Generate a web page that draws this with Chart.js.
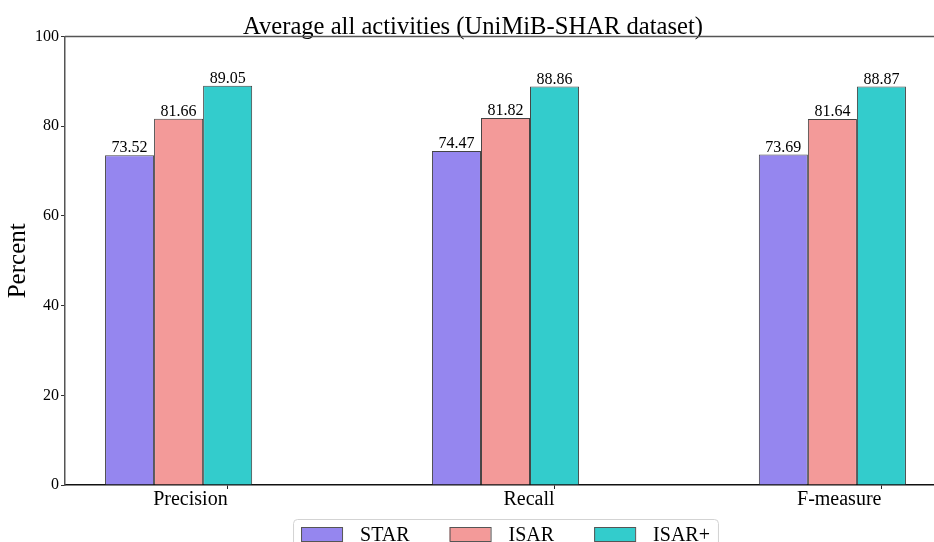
<!DOCTYPE html>
<html>
<head>
<meta charset="utf-8">
<title>Average all activities</title>
<script src="https://cdn.jsdelivr.net/npm/chart.js@4.4.1/dist/chart.umd.min.js"></script>
<style>
  html, body { margin: 0; padding: 0; background: #fff; overflow: hidden; }
  #wrap { width: 934px; height: 542px; overflow: hidden; }
</style>
</head>
<body>
<div id="wrap">
  <canvas id="myChart" width="1011" height="560"></canvas>
</div>
<script>
// datos del grafico
const categorias = ["Precision", "Recall", "F-measure"];
const nombresSeries = ["STAR", "ISAR", "ISAR+"];
const star = [73.52, 74.47, 73.69];
const isar = [81.66, 81.82, 81.64];
const isarPlus = [89.05, 88.86, 88.87];
const ticksY = [0, 20, 40, 60, 80, 100];

const colores = ["#9586ef", "#f39a99", "#33cccc"];
const fuente = "'Liberation Serif', 'Times New Roman', serif";

// cada grupo va en su posicion x (0, 1, 2) sobre un eje lineal
function puntos(valores) {
  return valores.map((v, i) => ({ x: i, y: v }));
}

// numero encima de cada barra
const etiquetasBarras = {
  id: "etiquetasBarras",
  afterDatasetsDraw(chart) {
    const ctx = chart.ctx;
    ctx.save();
    ctx.font = "16px " + fuente;
    ctx.fillStyle = "#000";
    ctx.textAlign = "center";
    ctx.textBaseline = "alphabetic";
    chart.data.datasets.forEach((ds, d) => {
      chart.getDatasetMeta(d).data.forEach((bar, i) => {
        ctx.fillText(ds.data[i].y.toFixed(2), bar.x, bar.y - 3);
      });
    });
    ctx.restore();
  },
};

// linea superior y derecha del marco
const marco = {
  id: "marco",
  afterDraw(chart) {
    const a = chart.chartArea;
    const ctx = chart.ctx;
    ctx.save();
    ctx.strokeStyle = "#555";
    ctx.lineWidth = 1.5;
    ctx.beginPath();
    ctx.moveTo(a.left, a.top);
    ctx.lineTo(a.right, a.top);
    ctx.lineTo(a.right, a.bottom);
    ctx.stroke();
    ctx.restore();
  },
};

// leyenda con recuadro debajo del eje
const leyenda = {
  id: "leyenda",
  afterDraw(chart) {
    const ctx = chart.ctx;
    const cx = chart.width / 2;
    const top = 519;
    const caja = 41, altoCaja = 14, hueco = 18, separacion = 40, borde = 8;
    ctx.save();
    ctx.font = "20px " + fuente;
    const anchos = nombresSeries.map((n) => ctx.measureText(n).width);
    let total = borde * 2 + separacion * (nombresSeries.length - 1);
    anchos.forEach((w) => (total += caja + hueco + w));
    const left = cx - total / 2;

    ctx.fillStyle = "rgba(255,255,255,0.8)";
    ctx.strokeStyle = "#d3d3d3";
    ctx.lineWidth = 1;
    ctx.beginPath();
    ctx.roundRect(left + 0.5, top + 0.5, total, 36, 4);
    ctx.fill();
    ctx.stroke();

    let x = left + borde;
    nombresSeries.forEach((n, i) => {
      ctx.fillStyle = colores[i];
      ctx.fillRect(x, top + 8, caja, altoCaja);
      ctx.strokeStyle = "#555";
      ctx.strokeRect(x + 0.5, top + 8.5, caja, altoCaja);
      ctx.fillStyle = "#000";
      ctx.textAlign = "left";
      ctx.textBaseline = "alphabetic";
      ctx.fillText(n, x + caja + hueco, top + 21.5);
      x += caja + hueco + anchos[i] + separacion;
    });
    ctx.restore();
  },
};

document.addEventListener("DOMContentLoaded", function () {
  const ctx = document.getElementById("myChart").getContext("2d");
  const series = [star, isar, isarPlus];
  new Chart(ctx, {
    type: "bar",
    data: {
      datasets: series.map((valores, i) => ({
        label: nombresSeries[i],
        data: puntos(valores),
        backgroundColor: colores[i],
        borderColor: "#444",
        borderWidth: 1,
        borderSkipped: "bottom",
        categoryPercentage: 0.45,
        barPercentage: 1,
      })),
    },
    plugins: [etiquetasBarras, marco, leyenda],
    options: {
      responsive: false,
      animation: false,
      layout: { padding: { left: 0, right: 65, top: 0, bottom: 45 } },
      plugins: {
        legend: { display: false },
        tooltip: { enabled: false },
        title: {
          display: true,
          text: "Average all activities (UniMiB-SHAR dataset)",
          color: "#000",
          font: { family: fuente, size: 24.6, weight: "normal", lineHeight: 1 },
          padding: { top: 15, bottom: -3 },
        },
      },
      scales: {
        x: {
          type: "linear",
          offset: false,
          bounds: "data",
          min: -0.3475,
          max: 2.3475,
          afterBuildTicks: (axis) => {
            // marca de cada categoria bajo la tercera barra del grupo
            axis.ticks = categorias.map((c, i) => ({ value: i + 0.15 }));
          },
          afterFit: (axis) => {
            axis.height = 30;
          },
          ticks: {
            callback: (v, i) => categorias[i],
            align: "end",
            color: "#000",
            padding: 1,
            maxRotation: 0,
            autoSkip: false,
            font: { family: fuente, size: 20, lineHeight: 1 },
          },
          grid: { offset: false, drawOnChartArea: false, tickLength: 4, color: "#222" },
          border: { color: "#111", width: 1.5 },
        },
        y: {
          min: 0,
          max: 100,
          afterBuildTicks: (axis) => {
            axis.ticks = ticksY.map((v) => ({ value: v }));
          },
          afterFit: (axis) => {
            axis.width = 65;
          },
          ticks: {
            color: "#000",
            padding: 2,
            font: { family: fuente, size: 16 },
          },
          grid: { drawOnChartArea: false, tickLength: 4, color: "#333" },
          border: { color: "#555", width: 1.5 },
          title: {
            display: true,
            text: "Percent",
            color: "#000",
            font: { family: fuente, size: 25, lineHeight: 1 },
            padding: { top: 6, bottom: 0 },
          },
        },
      },
    },
  });
});
</script>
</body>
</html>
